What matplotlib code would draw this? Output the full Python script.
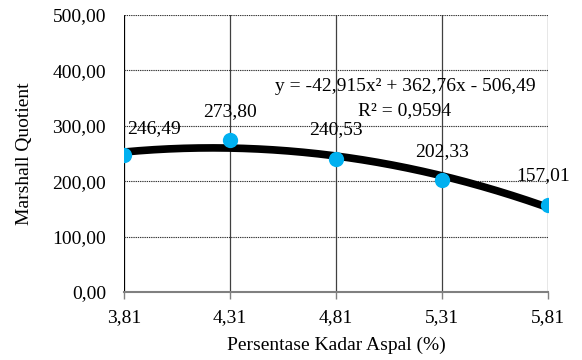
import numpy as np
import matplotlib
matplotlib.use("Agg")
from matplotlib import pyplot as plt
from matplotlib.ticker import FuncFormatter

# Data
kadar_aspal = [3.81, 4.31, 4.81, 5.31, 5.81]
marshall_quotient = [246.49, 273.80, 240.53, 202.33, 157.01]
label_mq = ["246,49", "273,80", "240,53", "202,33", "157,01"]
# Koefisien trendline polinomial orde 2
koef = [-42.915, 362.76, -506.49]
persamaan = "y = -42,915x² + 362,76x - 506,49"
r2_text = "R² = 0,9594"

plt.rcParams['font.family'] = ['Liberation Serif', 'DejaVu Serif']
fs = 14

fig = plt.figure(figsize=(5.82, 3.6), dpi=100)
ax = fig.add_axes([124 / 582, 1 - 292 / 360, (548 - 124) / 582, (292 - 15) / 360])

# Trendline
xs = np.linspace(kadar_aspal[0], kadar_aspal[-1], 200)
ys = np.polyval(koef, xs)
ax.plot(xs, ys, color='black', lw=5.5, solid_capstyle='butt', zorder=3)

# Titik data
ax.plot(kadar_aspal, marshall_quotient, 'o', color='#00B0F0', ms=11, zorder=4,
        markeredgewidth=0)

# Label nilai (offset dalam piksel)
offsets = [(30, 22), (0, 24), (0, 25), (0, 24), (-5, 25)]
for x, y, lab, off in zip(kadar_aspal, marshall_quotient, label_mq, offsets):
    ax.annotate(lab, (x, y), xytext=off, textcoords='offset pixels',
                ha='center', va='baseline', fontsize=fs, zorder=5)

ax.text(5.135, 363, persamaan, ha='center', va='baseline', fontsize=fs)
ax.text(5.135, 320, r2_text, ha='center', va='baseline', fontsize=fs)

ax.set_xlim(3.81, 5.81)
ax.set_ylim(0, 500)
ax.set_xticks(kadar_aspal)
ax.set_yticks(range(0, 501, 100))
ax.xaxis.set_major_formatter(FuncFormatter(lambda v, p: f"{v:.2f}".replace('.', ',')))
ax.yaxis.set_major_formatter(FuncFormatter(lambda v, p: f"{v:.2f}".replace('.', ',')))

# Grid
for i, x in enumerate(kadar_aspal):
    ax.axvline(x, color='black' if i == 0 else '#404040', lw=0.9, zorder=1)
for y in range(100, 501, 100):
    ax.axhline(y, color='#333333', lw=0.8, ls=(0, (1.2, 0.8)), zorder=1)

for s in ['top', 'right', 'left']:
    ax.spines[s].set_visible(False)
ax.spines['bottom'].set_color('#808080')
ax.spines['bottom'].set_linewidth(1.5)
ax.tick_params(axis='x', direction='out', length=5, color='#808080', width=1,
               pad=7, labelsize=fs)
ax.tick_params(axis='y', length=0, pad=13, labelsize=fs)

ax.set_xlabel("Persentase Kadar Aspal (%)", fontsize=fs, labelpad=8)
ax.set_ylabel("Marshall Quotient", fontsize=fs, labelpad=14)

fig.savefig("out.png", dpi=100)
